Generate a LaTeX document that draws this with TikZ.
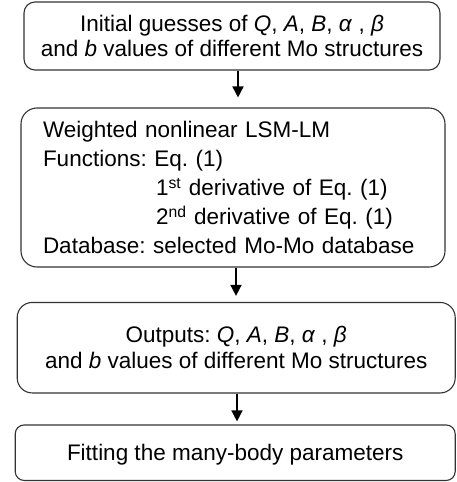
\documentclass[tikz,border=0pt]{standalone}
\usepackage{fontspec}
\setmainfont{Liberation Sans}
\usetikzlibrary{arrows.meta}
\begin{document}
\frenchspacing
\begin{tikzpicture}[x=1pt,y=-1pt,
  box/.style={draw=black!80, line width=1.1pt, align=center, inner sep=0pt,
    font=\fontsize{22.5}{25.7}\selectfont},
  arr/.style={draw=black, line width=1.6pt, -{Triangle[length=11pt,width=11pt]}}]
\useasboundingbox (0,0) rectangle (456,482);
\node[box, rounded corners=11pt, minimum width=416pt, minimum height=68pt] (b1) at (232,36)
  {Initial guesses of \textit{Q}, \textit{A}, \textit{B}, \textit{α} , \textit{β}\\
   and \textit{b} values of different Mo structures};
\node[box, rounded corners=16pt, minimum width=424pt, minimum height=159pt, align=left,
  text width=380pt, font=\fontsize{22.5}{29}\selectfont] (b2) at (233,187.5)
  {Weighted nonlinear LSM-LM\\
   Functions: Eq. (1)\\
   \hspace*{113pt}1\textsuperscript{st} derivative of Eq. (1)\\
   \hspace*{113pt}2\textsuperscript{nd} derivative of Eq. (1)\\
   Database: selected Mo-Mo database};
\node[box, rounded corners=15pt, minimum width=438pt, minimum height=90.5pt] (b3) at (236.2,347.7)
  {Outputs: \textit{Q}, \textit{A}, \textit{B}, \textit{α} , \textit{β}\\
   and \textit{b} values of different Mo structures};
\node[box, rounded corners=9pt, minimum width=440pt, minimum height=55.5pt, text depth=0pt] (b4) at (235.2,452.7)
  {Fitting the many-body parameters};
\coordinate (ax1) at (238,0);
\coordinate (ax2) at (236,0);
\coordinate (ax3) at (237,0);
\draw[arr, shorten >=10pt] (b1.south -| ax1) -- (b2.north -| ax1);
\draw[arr, shorten >=6pt] (b2.south -| ax2) -- (b3.north -| ax2);
\draw[arr, shorten >=3pt] (b3.south -| ax3) -- (b4.north -| ax3);
\end{tikzpicture}
\end{document}
